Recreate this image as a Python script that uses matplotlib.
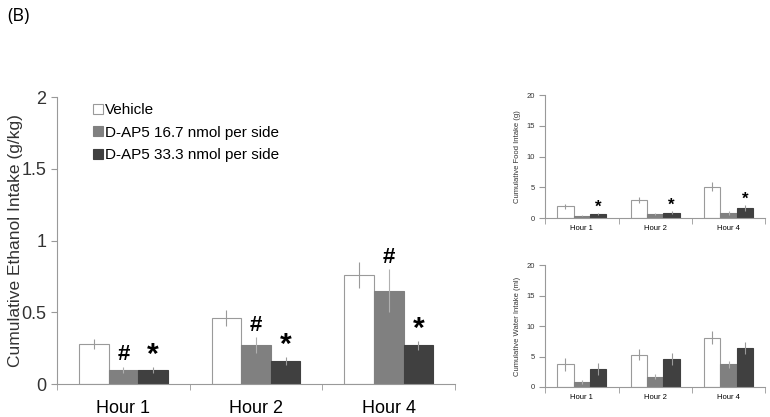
import numpy as np
import matplotlib.pyplot as plt
from matplotlib.patches import Patch

plt.rcParams['font.family'] = ['Liberation Sans', 'DejaVu Sans']

hours = ["Hour 1", "Hour 2", "Hour 4"]
groups = ["Vehicle", "D-AP5 16.7 nmol per side", "D-AP5 33.3 nmol per side"]

# ethanol intake (g/kg)
eth_mean = [[0.28, 0.46, 0.76], [0.10, 0.27, 0.65], [0.10, 0.16, 0.27]]
eth_err = [[0.035, 0.055, 0.09], [0.02, 0.055, 0.15], [0.02, 0.03, 0.03]]
eth_marks = [["", "", ""], ["#", "#", "#"], ["*", "*", "*"]]

# food intake (g)
food_mean = [[1.9, 2.9, 5.1], [0.4, 0.7, 0.8], [0.7, 0.9, 1.6]]
food_err = [[0.4, 0.5, 0.7], [0.1, 0.2, 0.3], [0.2, 0.3, 0.5]]
food_marks = [["", "", ""], ["", "", ""], ["*", "*", "*"]]

# water intake (ml)
water_mean = [[3.7, 5.3, 8.1], [0.8, 1.7, 3.7], [2.9, 4.6, 6.4]]
water_err = [[1.0, 0.9, 1.1], [0.3, 0.4, 0.6], [1.0, 1.0, 1.0]]

faces = ["white", "#808080", "#404040"]
edges = ["#9a9a9a", "#808080", "#404040"]
errc = ["#9a9a9a", "#b0b0b0", "#9a9a9a"]


def draw(ax, means, errs, ymax, step, ylabel, tfs, lfs, marks=None, mfs=16, mgap=0.0):
    x = np.arange(len(hours))
    w = 0.223
    for i in range(3):
        xs = x + (i - 1) * w
        ax.bar(xs, means[i], w, color=faces[i], edgecolor=edges[i], linewidth=0.8, zorder=2)
        ax.errorbar(xs, means[i], yerr=errs[i], fmt='none', ecolor=errc[i], elinewidth=0.8,
                    capsize=0, zorder=3)
        if marks is not None:
            for xx, m, e, t in zip(xs, means[i], errs[i], marks[i]):
                if t:
                    size = mfs * 1.35 if t == "*" else mfs
                    off = -mgap * 1.5 if t == "*" else mgap
                    ax.text(xx, m + e + off, t, ha='center', va='bottom', fontsize=size,
                            fontweight='bold', color='black', zorder=4)
    ax.set_xlim(-0.5, len(hours) - 0.5)
    ax.set_ylim(0, ymax)
    ax.set_yticks(np.arange(0, ymax + step / 2, step))
    ax.set_xticks(x)
    ax.set_xticklabels(hours, fontsize=tfs)
    ax.set_xticks(np.arange(-0.5, len(hours)), minor=True)
    ax.tick_params(axis='x', which='major', length=0, pad=tfs * 0.9)
    ax.tick_params(axis='x', which='minor', length=4, color='#999999', direction='out')
    ax.tick_params(axis='y', length=4, color='#999999', labelsize=tfs, colors='#333333')
    for lab in ax.get_xticklabels():
        lab.set_color('black')
    for s in ['top', 'right']:
        ax.spines[s].set_visible(False)
    for s in ['left', 'bottom']:
        ax.spines[s].set_color('#999999')
        ax.spines[s].set_linewidth(0.8)
    ax.set_ylabel(ylabel, fontsize=lfs, color='#333333')


fig = plt.figure(figsize=(7.7, 4.17), dpi=100)
fig.text(0.010, 0.962, "(B)", fontsize=13, family=['Open Sans', 'DejaVu Sans'], va='center')

ax = fig.add_axes([0.074, 0.079, 0.517, 0.688])
draw(ax, eth_mean, eth_err, 2, 0.5, "Cumulative Ethanol Intake (g/kg)", 13, 12.5,
     marks=eth_marks, mfs=16, mgap=0.01)
ax.set_yticklabels(["0", "0.5", "1", "1.5", "2"])
ax.yaxis.set_label_coords(-0.086, 0.5)
handles = [Patch(facecolor=faces[i], edgecolor=edges[i], linewidth=0.8) for i in range(3)]
ax.legend(handles, groups, loc='upper left', bbox_to_anchor=(0.075, 1.0), frameon=False,
          fontsize=11, handlelength=0.65, handleheight=0.65, handletextpad=0.15,
          labelspacing=0.55, borderaxespad=0)

axf = fig.add_axes([0.708, 0.477, 0.286, 0.295])
draw(axf, food_mean, food_err, 20, 5, "Cumulative Food Intake (g)", 5.5, 5.5,
     marks=food_marks, mfs=9, mgap=0.2)

axw = fig.add_axes([0.708, 0.072, 0.286, 0.292])
draw(axw, water_mean, water_err, 20, 5, "Cumulative Water Intake (ml)", 5.5, 5.5)

fig.savefig("out.png", dpi=100)
